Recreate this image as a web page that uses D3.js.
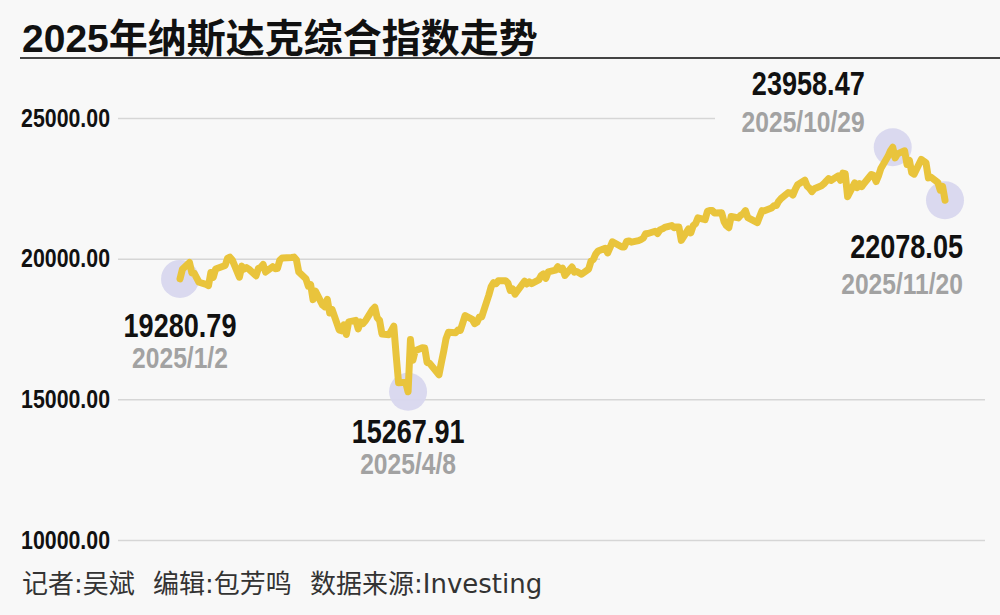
<!DOCTYPE html>
<html><head><meta charset="utf-8">
<script src="https://cdn.jsdelivr.net/npm/d3@7"></script>
<style>
html,body{margin:0;padding:0;background:#f8f8f8;}
svg{display:block;}
</style></head>
<body>
<svg id="chart" width="1000" height="615"></svg>
<script>
// ---------------- DATA ----------------
const title = "2025年纳斯达克综合指数走势";
const footerParts = ["记者:吴斌", "编辑:包芳鸣", "数据来源:Investing"];
const yTicks = [10000, 15000, 20000, 25000];

const dates = [
"2025-01-02","2025-01-03","2025-01-06","2025-01-07","2025-01-08","2025-01-10","2025-01-13","2025-01-14","2025-01-15","2025-01-16","2025-01-17",
"2025-01-21","2025-01-22","2025-01-23","2025-01-24","2025-01-27","2025-01-28","2025-01-29","2025-01-30","2025-01-31",
"2025-02-03","2025-02-04","2025-02-05","2025-02-06","2025-02-07","2025-02-10","2025-02-11","2025-02-12","2025-02-13","2025-02-14",
"2025-02-18","2025-02-19","2025-02-20","2025-02-21","2025-02-24","2025-02-25","2025-02-26","2025-02-27","2025-02-28",
"2025-03-03","2025-03-04","2025-03-05","2025-03-06","2025-03-07","2025-03-10","2025-03-11","2025-03-12","2025-03-13","2025-03-14",
"2025-03-17","2025-03-18","2025-03-19","2025-03-20","2025-03-21","2025-03-24","2025-03-25","2025-03-26","2025-03-27","2025-03-28","2025-03-31",
"2025-04-01","2025-04-02","2025-04-03","2025-04-04","2025-04-07","2025-04-08","2025-04-09","2025-04-10","2025-04-11",
"2025-04-14","2025-04-15","2025-04-16","2025-04-17","2025-04-21","2025-04-22","2025-04-23","2025-04-24","2025-04-25",
"2025-04-28","2025-04-29","2025-04-30","2025-05-01","2025-05-02","2025-05-05","2025-05-06","2025-05-07","2025-05-08","2025-05-09",
"2025-05-12","2025-05-13","2025-05-14","2025-05-15","2025-05-16","2025-05-19","2025-05-20","2025-05-21","2025-05-22","2025-05-23",
"2025-05-27","2025-05-28","2025-05-29","2025-05-30","2025-06-02","2025-06-03","2025-06-04","2025-06-05","2025-06-06",
"2025-06-09","2025-06-10","2025-06-11","2025-06-12","2025-06-13","2025-06-16","2025-06-17","2025-06-18","2025-06-20",
"2025-06-23","2025-06-24","2025-06-25","2025-06-26","2025-06-27","2025-06-30","2025-07-01","2025-07-02","2025-07-03",
"2025-07-07","2025-07-08","2025-07-09","2025-07-10","2025-07-11","2025-07-14","2025-07-15","2025-07-16","2025-07-17","2025-07-18",
"2025-07-21","2025-07-22","2025-07-23","2025-07-24","2025-07-25","2025-07-28","2025-07-29","2025-07-30","2025-07-31","2025-08-01",
"2025-08-04","2025-08-05","2025-08-06","2025-08-07","2025-08-08","2025-08-11","2025-08-12","2025-08-13","2025-08-14","2025-08-15",
"2025-08-18","2025-08-19","2025-08-20","2025-08-21","2025-08-22","2025-08-25","2025-08-26","2025-08-27","2025-08-28","2025-08-29",
"2025-09-02","2025-09-03","2025-09-04","2025-09-05","2025-09-08","2025-09-09","2025-09-10","2025-09-11","2025-09-12",
"2025-09-15","2025-09-16","2025-09-17","2025-09-18","2025-09-19","2025-09-22","2025-09-23","2025-09-24","2025-09-25","2025-09-26",
"2025-09-29","2025-09-30","2025-10-01","2025-10-02","2025-10-03","2025-10-06","2025-10-07","2025-10-08","2025-10-09","2025-10-10",
"2025-10-13","2025-10-14","2025-10-15","2025-10-16","2025-10-17","2025-10-20","2025-10-21","2025-10-22","2025-10-23","2025-10-24",
"2025-10-27","2025-10-28","2025-10-29","2025-10-30","2025-10-31","2025-11-03","2025-11-04","2025-11-05","2025-11-06","2025-11-07",
"2025-11-10","2025-11-11","2025-11-12","2025-11-13","2025-11-14","2025-11-17","2025-11-18","2025-11-19","2025-11-20"
];

const values = [
19280.79,19621.68,19864.98,19489.68,19478.88,19161.63,19088.10,19044.39,19511.23,19338.29,19630.20,
19756.78,20009.34,20053.68,19954.30,19341.83,19733.59,19632.32,19681.75,19627.44,
19391.96,19654.02,19692.33,19791.99,19523.40,19714.27,19643.86,19649.95,19945.64,20026.77,
20041.26,20056.25,19962.36,19524.01,19286.93,19026.39,19075.26,18544.42,18847.28,
18350.19,18285.16,18552.73,18069.26,18196.22,17468.32,17436.10,17648.45,17303.01,17754.09,
17808.66,17504.12,17750.79,17691.63,17784.05,18188.59,18271.86,17899.01,17804.03,17322.99,17299.29,
17449.89,17601.05,16550.61,15587.79,15603.26,15267.91,17124.97,16387.31,16724.46,
16831.48,16823.17,16307.16,16286.45,15870.90,16300.42,16708.05,17166.04,17382.94,
17366.13,17461.32,17446.34,17710.74,17977.73,17844.24,17689.66,17738.16,17928.14,17928.92,
18708.34,19010.08,19146.81,19112.32,19211.10,19215.46,19142.71,18872.64,18925.73,18737.21,
19199.16,19100.94,19175.87,19113.77,19242.61,19398.96,19460.49,19298.45,19529.95,
19591.24,19714.99,19615.88,19662.49,19406.83,19701.21,19521.09,19546.27,19447.41,
19630.97,19912.53,19973.55,20167.91,20273.46,20369.73,20202.89,20393.13,20601.10,
20412.52,20418.46,20611.34,20630.66,20585.53,20640.33,20677.80,20730.49,20885.65,20895.66,
20974.17,20892.69,21020.02,21057.96,21108.32,21178.58,21098.29,21129.67,21122.45,20650.13,
21053.58,20916.55,21169.42,21242.70,21450.02,21385.40,21681.90,21713.14,21710.67,21622.98,
21629.77,21314.95,21172.86,21100.31,21496.54,21449.29,21544.27,21590.14,21705.16,21455.55,
21279.63,21497.73,21707.69,21700.39,21798.70,21879.49,21886.06,22043.07,22141.10,
22348.75,22333.96,22261.33,22470.73,22631.48,22788.98,22573.47,22497.86,22384.70,22484.07,
22591.15,22660.01,22755.16,22844.05,22780.51,22941.67,22788.36,23043.38,23024.63,22204.43,
22694.61,22521.70,22670.08,22562.54,22679.97,22990.54,22953.67,22740.40,22941.80,23204.87,
23637.46,23827.49,23958.47,23581.14,23724.96,23834.72,23348.64,23499.80,23053.99,23004.54,
23527.17,23468.30,23406.46,22870.36,22900.59,22708.07,22432.85,22564.23,22078.05
];

const markDates = ["2025-01-02", "2025-04-08", "2025-10-29", "2025-11-20"];
const markLabels = ["2025/1/2", "2025/4/8", "2025/10/29", "2025/11/20"];

// ---------------- LAYOUT / STYLE ----------------
const W = 1000, H = 615;
const plot = {left: 180, right: 945, top: 118, bottom: 540, gridX0: 118, gridX1: 985, labelX: 110};
const colors = {bg: "#f8f8f8", line: "#e9c43c", grid: "#d6d6d6", dot: "#d8d7ee", text: "#111", date: "#a2a2a2", foot: "#333"};
const markLayout = [
  {anchor: "middle", dx: 0,   dv: 58,  dd: 89},
  {anchor: "middle", dx: 0,   dv: 51,  dd: 82},
  {anchor: "end",    dx: -28, dv: -52, dd: -15},
  {anchor: "end",    dx: 18,  dv: 58,  dd: 94}
];

function fontAvailable(name){
  const c = document.createElement("canvas").getContext("2d");
  const s = "25000.00 2025/10/29";
  c.font = "bold 40px monospace"; const a = c.measureText(s).width;
  c.font = `bold 40px "${name}", monospace`; const b = c.measureText(s).width;
  return Math.abs(a-b) > 0.5;
}
const hasNarrow = fontAvailable("Liberation Sans Narrow");
const numFont = hasNarrow ? '"Liberation Sans Narrow", "Arial Narrow", sans-serif' : '"Liberation Sans", Arial, sans-serif';
function narrowText(sel){
  if (hasNarrow) return;
  sel.each(function(){
    const w = this.getComputedTextLength();
    d3.select(this).attr("textLength", w*0.82).attr("lengthAdjust","spacingAndGlyphs");
  });
}

const parse = d3.timeParse("%Y-%m-%d");
const data = dates.map((d,i)=>({date: parse(d), value: values[i]}));

const x = d3.scaleTime().domain(d3.extent(data, d=>d.date)).range([plot.left, plot.right]);
const y = d3.scaleLinear().domain([10000, 25000]).range([plot.bottom, plot.top]);

const svg = d3.select("#chart");
svg.append("rect").attr("width", W).attr("height", H).attr("fill", colors.bg);

// title
svg.append("text").attr("x", 22).attr("y", 52)
  .attr("font-family", '"Liberation Sans", "Noto Sans CJK SC", sans-serif')
  .attr("font-weight", "bold").attr("font-size", 39).attr("fill", "#111")
  .text(title);
svg.append("line").attr("x1", 20).attr("x2", W).attr("y1", 58).attr("y2", 58)
  .attr("stroke", "#444").attr("stroke-width", 2);

// grid + axis
const yAxis = d3.axisLeft(y).tickValues(yTicks).tickFormat(d3.format(".2f"))
  .tickSize(-(plot.gridX1 - plot.gridX0)).tickPadding(plot.gridX0 - plot.labelX);
const gAxis = svg.append("g").attr("transform", `translate(${plot.gridX0},0)`).call(yAxis);
gAxis.select(".domain").remove();
gAxis.selectAll(".tick line").attr("stroke", colors.grid).attr("stroke-width", 1.5);
gAxis.selectAll(".tick text").attr("font-family", numFont).attr("font-weight", "bold")
  .attr("font-size", 26).attr("fill", colors.text);
narrowText(gAxis.selectAll(".tick text"));

// label background masks (hide grid behind right-side annotations)
const maskG = svg.append("g");
maskG.append("rect").attr("x", 715).attr("y", 62).attr("width", W-715).attr("height", 74).attr("fill", colors.bg);
maskG.append("rect").attr("x", 600).attr("y", 222).attr("width", W-600).attr("height", 80).attr("fill", colors.bg);

// marker dots
const marks = markDates.map((d,i)=>{
  const p = data.find(e=>+e.date === +parse(d));
  return {date: p.date, value: p.value, label: markLabels[i], lay: markLayout[i]};
});
svg.append("g").selectAll("circle").data(marks).join("circle")
  .attr("cx", d=>x(d.date)).attr("cy", d=>y(d.value)).attr("r", 19)
  .attr("fill", colors.dot).attr("opacity", 0.95);

// line
const line = d3.line().x(d=>x(d.date)).y(d=>y(d.value));
svg.append("path").datum(data).attr("d", line).attr("fill", "none")
  .attr("stroke", colors.line).attr("stroke-width", 7)
  .attr("stroke-linejoin", "round").attr("stroke-linecap", "round");

// annotations
const ann = svg.append("g");
const vT = ann.selectAll("text.v").data(marks).join("text").attr("class","v")
  .attr("x", d=>x(d.date)+d.lay.dx).attr("y", d=>y(d.value)+d.lay.dv)
  .attr("text-anchor", d=>d.lay.anchor)
  .attr("font-family", numFont).attr("font-weight","bold").attr("font-size", 33).attr("fill", colors.text)
  .text(d=>d3.format(".2f")(d.value));
const dT = ann.selectAll("text.d").data(marks).join("text").attr("class","d")
  .attr("x", d=>x(d.date)+d.lay.dx).attr("y", d=>y(d.value)+d.lay.dd)
  .attr("text-anchor", d=>d.lay.anchor)
  .attr("font-family", numFont).attr("font-weight","bold").attr("font-size", 30).attr("fill", colors.date)
  .text(d=>d.label);
narrowText(vT); narrowText(dT);

// footer
const footX = [22, 153, 310];
const foot = svg.append("g");
footerParts.forEach((t,i)=>{
  foot.append("text").attr("x", footX[i]).attr("y", 593)
    .attr("font-family", '"DejaVu Sans", "Noto Sans CJK SC", sans-serif')
    .attr("font-weight", "normal")
    .attr("font-size", 26).attr("fill", colors.foot).text(t);
});
</script>
</body></html>
